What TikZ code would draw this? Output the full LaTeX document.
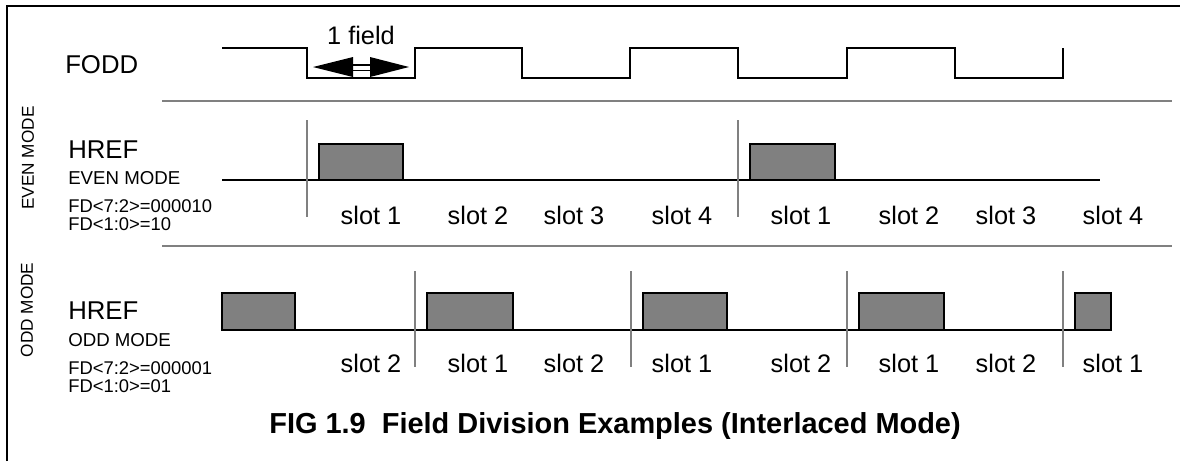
\documentclass[tikz,border=0pt]{standalone}
\usepackage{fontspec}
\setmainfont{Liberation Sans}
\definecolor{pulsegray}{HTML}{808080}
\definecolor{linegray}{HTML}{808080}
\begin{document}
\begin{tikzpicture}[x=0.75pt,y=-0.75pt,
  frame/.style={line width=1.75pt,black},
  sig/.style={line width=1.5pt,black,line join=miter},
  sep/.style={line width=1.25pt,linegray},
  tick/.style={line width=1pt,linegray},
  pulse/.style={draw=black,line width=1.5pt,fill=pulsegray},
  lbl/.style={font=\fontsize{19.3}{22}\selectfont,anchor=west,inner sep=0pt},
  small/.style={font=\fontsize{14}{16}\selectfont,anchor=west,inner sep=0pt},
  fdlbl/.style={font=\fontsize{13.8}{13}\selectfont,anchor=west,inner sep=0pt,align=left},
  slotlbl/.style={font=\fontsize{19}{20}\selectfont,inner sep=0pt},
  rotlbl/.style={font=\fontsize{12.9}{14}\selectfont,rotate=90,inner sep=0pt},
  titlelbl/.style={font=\bfseries\fontsize{21.7}{24}\selectfont,inner sep=0pt}]
\useasboundingbox (0,0) rectangle (1180,461);
% frame
\draw[frame] (7,461) -- (7,6) -- (1180,6);
% separators
\draw[sep] (162,101) -- (1172,101);
\draw[sep] (162,246) -- (1172,246);
% FODD
\node[lbl] (fodd) at (65,65) {FODD};
\draw[sig] (222,48) -- (307,48) -- (307,78) -- (415,78) -- (415,48) -- (522,48) -- (522,78)
  -- (630,78) -- (630,48) -- (738,48) -- (738,78) -- (847,78) -- (847,48) -- (955,48)
  -- (955,78) -- (1063,78) -- (1063,48);
% 1 field arrow
\fill (313,67) -- (353,57) -- (353,77) -- cycle;
\fill (409,67) -- (370,57) -- (370,77) -- cycle;
\draw[line width=1.3pt] (352,65) -- (371,65);
\draw[line width=1.3pt] (352,70.5) -- (371,70.5);
\node[slotlbl] (field) at (361,35) {1 field};
% rotated labels
\node[rotlbl] (evenlbl) at (28,158) {EVEN MODE};
\node[rotlbl] (oddlbl) at (27,310) {ODD MODE};
% EVEN section
\node[lbl] (hrefE) at (68,150) {HREF};
\node[small] (modeE) at (68,178) {EVEN MODE};
\node[fdlbl] (fdE) at (68,215) {FD<7:2>=000010\\FD<1:0>=10};
\draw[sig] (222,180) -- (1100,180);
\draw[pulse] (319,144) rectangle (403,180);
\draw[pulse] (750,144) rectangle (835,180);
\draw[tick] (307,120) -- (307,217);
\draw[tick] (738,120) -- (738,217);
\foreach \x/\t [count=\i] in {371/1,478/2,574/3,682/4,801/1,909/2,1006/3,1113/4}
  \node[slotlbl] (e\i) at (\x,215) {slot \t};
% ODD section
\node[lbl] (hrefO) at (68,311) {HREF};
\node[small] (modeO) at (68,340) {ODD MODE};
\node[fdlbl] (fdO) at (68,377) {FD<7:2>=000001\\FD<1:0>=01};
\draw[sig] (222,330) -- (1111,330);
\draw[pulse] (222,293) rectangle (295,330);
\draw[pulse] (427,293) rectangle (513,330);
\draw[pulse] (643,293) rectangle (727,330);
\draw[pulse] (859,293) rectangle (944,330);
\draw[pulse] (1075,293) rectangle (1111,330);
\foreach \x in {415,631,847,1063}
  \draw[tick] (\x,271) -- (\x,367);
\foreach \x/\t [count=\i] in {371/2,478/1,574/2,682/1,801/2,909/1,1006/2,1113/1}
  \node[slotlbl] (o\i) at (\x,363) {slot \t};
% title
\node[titlelbl] (title) at (615,426) {FIG 1.9\ \ Field Division Examples (Interlaced Mode)};
\end{tikzpicture}
\end{document}
